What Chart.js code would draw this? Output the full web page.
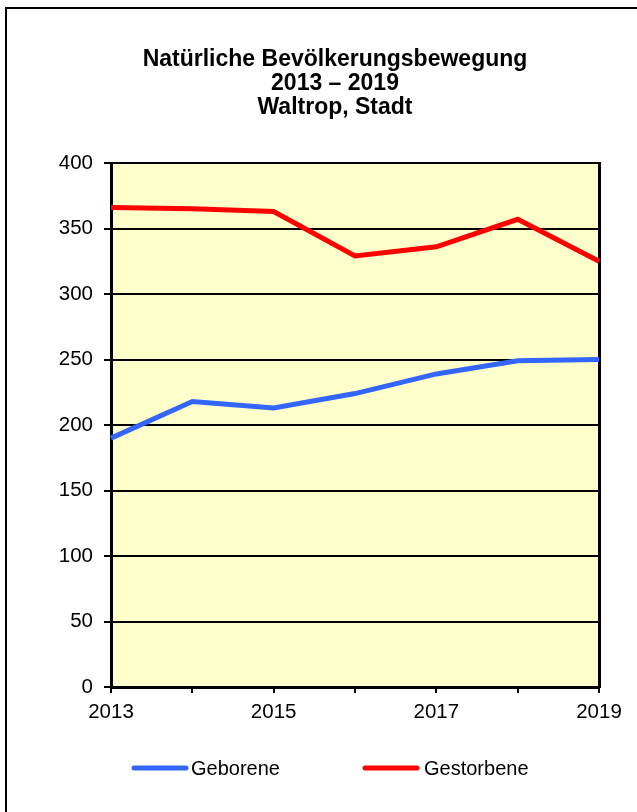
<!DOCTYPE html>
<html>
<head>
<meta charset="utf-8">
<script src="https://cdn.jsdelivr.net/npm/chart.js@4/dist/chart.umd.min.js"></script>
<style>
  html, body { margin: 0; padding: 0; background: #fff; }
  #wrap { position: relative; width: 637px; height: 812px; overflow: hidden; }
  #frame { position: absolute; left: 5px; top: 7px; width: 700px; height: 900px;
           border-top: 2px solid #000; border-left: 2px solid #000; box-sizing: border-box; }
  canvas { position: absolute; left: 0; top: 0; }
</style>
</head>
<body>
<div id="wrap">
  <div id="frame"></div>
  <canvas id="c" width="637" height="812"></canvas>
</div>
<script>
const years = ['2013', '2014', '2015', '2016', '2017', '2018', '2019'];
const geborene = [190, 218, 213, 224, 239, 249, 250];
const gestorbene = [366, 365, 363, 329, 336, 357, 325];
const titleLines = ['Natürliche Bevölkerungsbewegung', '2013 – 2019', 'Waltrop, Stadt'];
const seriesNames = ['Geborene', 'Gestorbene'];
const seriesColors = ['#3366FF', '#FF0000'];

const FONT = "'Liberation Sans', Arial, sans-serif";

const plotBg = {
  id: 'plotBg',
  beforeDraw(chart) {
    const a = chart.chartArea, ctx = chart.ctx;
    ctx.save();
    ctx.fillStyle = '#FFFFCC';
    ctx.fillRect(a.left, a.top, a.right - a.left, a.bottom - a.top);
    ctx.restore();
  }
};

const bottomLegend = {
  id: 'bottomLegend',
  afterDraw(chart) {
    const ctx = chart.ctx;
    const items = [{x: 134, textX: 191}, {x: 365, textX: 424}];
    const y = 768;
    ctx.save();
    ctx.font = '20px ' + FONT;
    ctx.textBaseline = 'middle';
    ctx.textAlign = 'left';
    chart.data.datasets.forEach((ds, i) => {
      const it = items[i];
      ctx.strokeStyle = ds.borderColor;
      ctx.lineWidth = 5;
      ctx.lineCap = 'round';
      ctx.beginPath();
      ctx.moveTo(it.x, y);
      ctx.lineTo(it.x + 52, y);
      ctx.stroke();
      ctx.fillStyle = '#000';
      ctx.fillText(ds.label, it.textX, y + 1);
    });
    ctx.restore();
  }
};

new Chart(document.getElementById('c'), {
  type: 'line',
  data: {
    labels: years,
    datasets: [
      { label: seriesNames[0], data: geborene, borderColor: seriesColors[0], backgroundColor: seriesColors[0],
        borderWidth: 5, pointRadius: 0, tension: 0, fill: false, yAxisID: 'y' },
      { label: seriesNames[1], data: gestorbene, borderColor: seriesColors[1], backgroundColor: seriesColors[1],
        borderWidth: 5, pointRadius: 0, tension: 0, fill: false, yAxisID: 'y' }
    ]
  },
  options: {
    responsive: false,
    animation: false,
    devicePixelRatio: 1,
    layout: { padding: { left: 33, right: 0, top: 0, bottom: 80 } },
    plugins: {
      legend: { display: false },
      tooltip: { enabled: false },
      title: {
        display: true,
        text: titleLines,
        color: '#000',
        font: { family: FONT, size: 23, weight: 'bold', lineHeight: 24 / 23 },
        padding: { top: 48, bottom: 43 }
      }
    },
    scales: {
      x: {
        offset: false,
        afterFit(scale) { scale.height = 45; },
        border: { display: true, color: '#000', width: 3 },
        grid: {
          drawOnChartArea: false,
          tickColor: '#000',
          lineWidth: 2,
          tickLength: 6
        },
        ticks: {
          color: '#000',
          font: { family: FONT, size: 20.5 },
          padding: 7,
          maxRotation: 0,
          autoSkip: false,
          callback: (v, i) => (i % 2 === 0 ? years[i] : '')
        }
      },
      y: {
        position: 'left',
        min: 0, max: 400,
        afterFit(scale) { scale.width = 78; },
        border: { display: true, color: '#000', width: 3 },
        grid: { color: '#000', lineWidth: 2, tickLength: 7, tickColor: '#000' },
        ticks: {
          stepSize: 50,
          color: '#000',
          font: { family: FONT, size: 20.5 },
          padding: 11
        }
      },
      yRight: {
        type: 'linear',
        position: 'right',
        min: 0, max: 400,
        afterFit(scale) { scale.width = 38; },
        border: { display: true, color: '#000', width: 3 },
        grid: { display: false, drawOnChartArea: false },
        ticks: { display: false }
      }
    }
  },
  plugins: [plotBg, bottomLegend]
});
</script>
</body>
</html>
